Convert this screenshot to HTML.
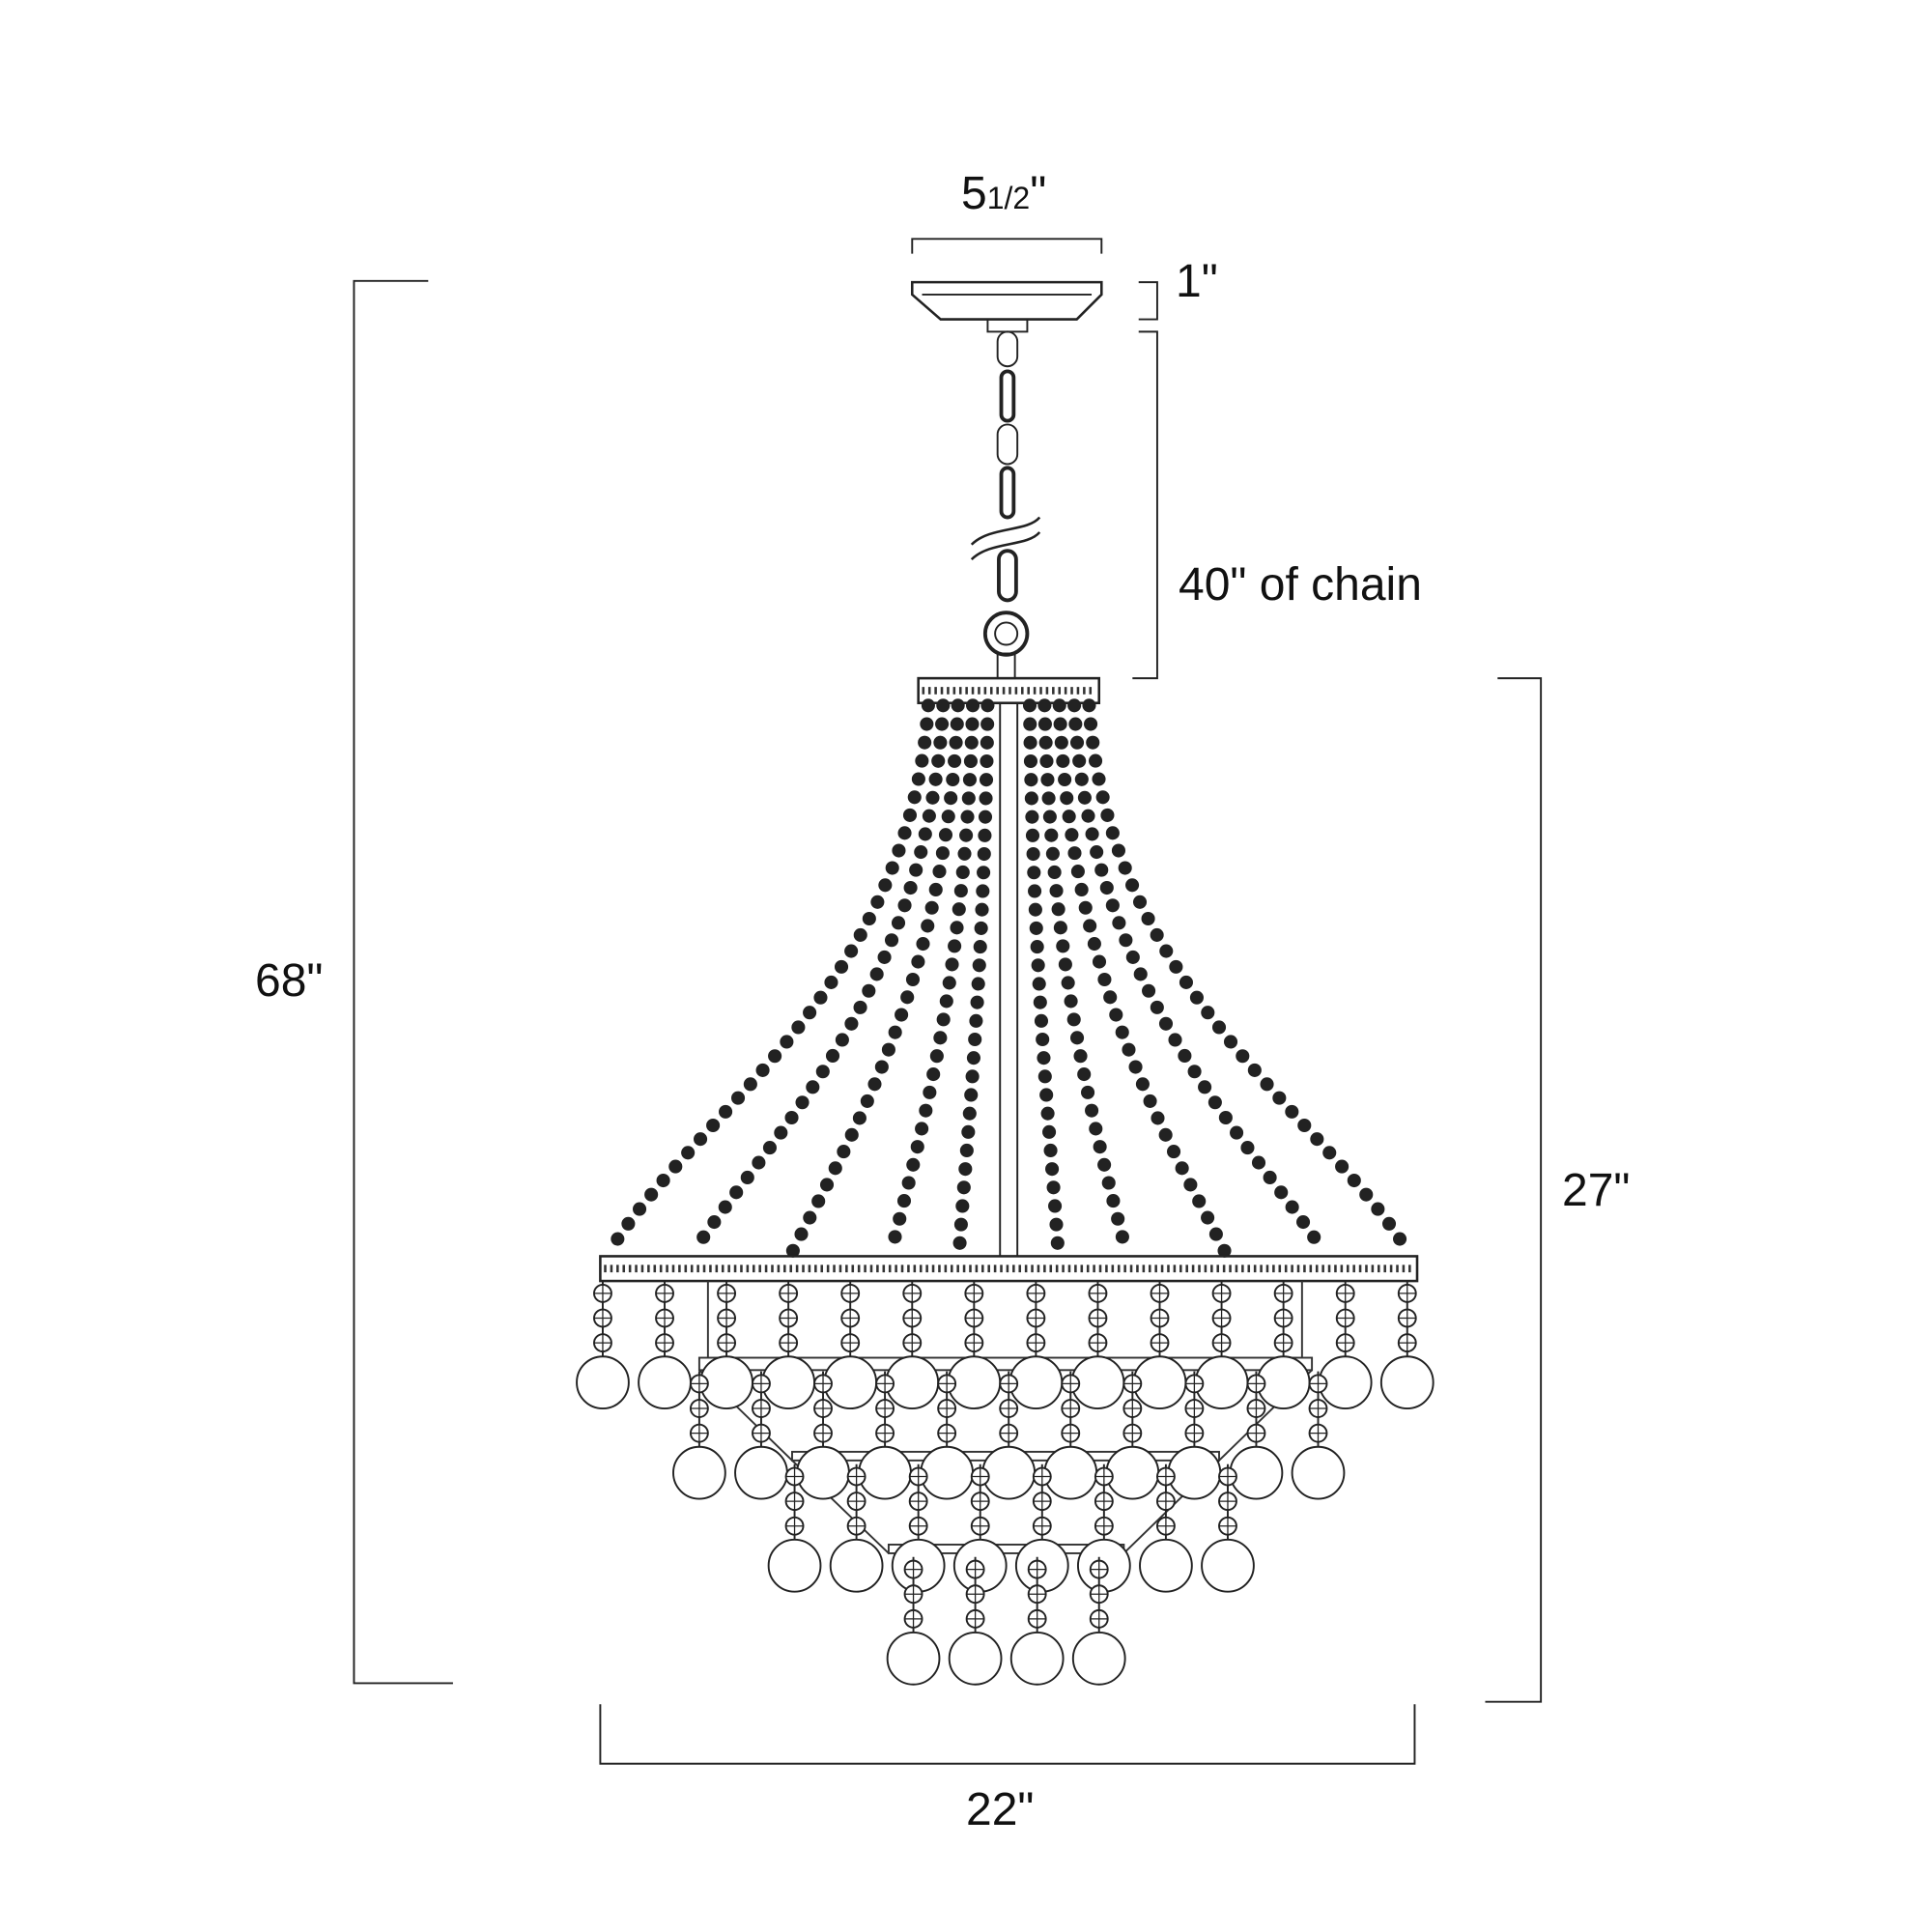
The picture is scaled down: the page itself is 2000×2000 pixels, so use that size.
<!DOCTYPE html>
<html><head><meta charset="utf-8"><style>
html,body{margin:0;padding:0;background:#fff}
body{position:relative;width:2000px;height:2000px;overflow:hidden}
svg{display:block;position:absolute;left:0;top:0}
.t{position:absolute;font-family:"Liberation Sans",Arial,sans-serif;font-size:48px;line-height:1;color:#111;white-space:nowrap}
.s{font-size:32px}
</style></head><body>
<svg width="2000" height="2000" viewBox="0 0 1561 1561" xmlns="http://www.w3.org/2000/svg" xmlns:xlink="http://www.w3.org/1999/xlink">
<defs>
<g id="p" fill="#fff" stroke="#222" stroke-width="1.5">
<line x1="0" y1="-82" x2="0" y2="-21"/>
<circle cx="0" cy="-72" r="7"/><path d="M-7,-72H7M0,-79V-65" stroke-width="1"/>
<circle cx="0" cy="-52" r="7"/><path d="M-7,-52H7M0,-59V-45" stroke-width="1"/>
<circle cx="0" cy="-32" r="7"/><path d="M-7,-32H7M0,-39V-25" stroke-width="1"/>
<circle cx="0" cy="0" r="21"/>
</g>
</defs>
<rect width="1561" height="1561" fill="#fff"/>
<g fill="none" stroke="#222" stroke-width="1.5">
<path d="M737,205 V193 H890 V205"/>
<path d="M920,228 H935 V258 H920"/>
<path d="M920,268 H935 V548 H915"/>
<path d="M346,227 H286 V1360 H366"/>
<path d="M1210,548 H1245 V1375 H1200"/>
<path d="M485,1377 V1425 H1143 V1377"/>
<path d="M737,228 H890 V238 L870,258 H760 L737,238 Z" stroke-width="2"/>
<path d="M745,238 H882"/>
<rect x="798" y="258" width="32" height="10"/>
<rect x="806" y="268" width="16" height="28" rx="8"/>
<rect x="809" y="300" width="10" height="40" rx="5" stroke-width="3"/>
<rect x="806" y="343" width="16" height="32" rx="8"/>
<rect x="809" y="378" width="10" height="40" rx="5" stroke-width="3"/>
<path d="M785,440 C800,425 830,430 840,418 M785,452 C800,437 830,442 840,430" stroke-width="2"/>
<rect x="807" y="445" width="14" height="40" rx="7" stroke-width="3"/>
<circle cx="813" cy="512" r="17" stroke-width="3"/>
<circle cx="813" cy="512" r="9"/>
<rect x="806" y="528" width="14" height="20"/>
<rect x="742" y="548" width="146" height="20" stroke-width="2"/>
<rect x="808" y="568" width="14" height="447"/>
<rect x="485" y="1015" width="660" height="20" stroke-width="2"/>
</g>
<g stroke="#333" stroke-width="6" stroke-dasharray="2 3" fill="none">
<path d="M745,558 H885"/>
<path d="M488,1025 H1142"/>
</g>
<g fill="none" stroke="#222" stroke-width="11" stroke-linecap="round" stroke-dasharray="0 15">
<path d="M750,570 C735,800 560,900 492,1012"/>
<path d="M762,570 C750,800 620,920 560,1012"/>
<path d="M774,570 C765,800 680,930 640,1012"/>
<path d="M786,570 C780,800 740,930 720,1012"/>
<path d="M798,570 C795,800 780,930 775,1012"/>
<path d="M832,570 C835,800 850,930 855,1012"/>
<path d="M844,570 C850,800 890,930 910,1012"/>
<path d="M856,570 C865,800 950,930 990,1012"/>
<path d="M868,570 C880,800 1010,920 1070,1012"/>
<path d="M880,570 C895,800 1070,900 1138,1012"/>
</g>
<g fill="none" stroke="#333" stroke-width="1.5">
<rect x="565" y="1097" width="495" height="10"/>
<rect x="640" y="1173" width="345" height="7"/>
<rect x="718" y="1248" width="190" height="7"/>
<path d="M572,1035 V1097 M1052,1035 V1097"/>
<path d="M565,1107 L640,1180 M1060,1107 L985,1180 M640,1180 L718,1255 M985,1180 L908,1255"/>
</g>
<use xlink:href="#p" href="#p" x="487" y="1117"/><use xlink:href="#p" href="#p" x="537" y="1117"/><use xlink:href="#p" href="#p" x="587" y="1117"/><use xlink:href="#p" href="#p" x="637" y="1117"/><use xlink:href="#p" href="#p" x="687" y="1117"/><use xlink:href="#p" href="#p" x="737" y="1117"/><use xlink:href="#p" href="#p" x="787" y="1117"/><use xlink:href="#p" href="#p" x="837" y="1117"/><use xlink:href="#p" href="#p" x="887" y="1117"/><use xlink:href="#p" href="#p" x="937" y="1117"/><use xlink:href="#p" href="#p" x="987" y="1117"/><use xlink:href="#p" href="#p" x="1037" y="1117"/><use xlink:href="#p" href="#p" x="1087" y="1117"/><use xlink:href="#p" href="#p" x="1137" y="1117"/>
<use xlink:href="#p" href="#p" x="565" y="1190"/><use xlink:href="#p" href="#p" x="615" y="1190"/><use xlink:href="#p" href="#p" x="665" y="1190"/><use xlink:href="#p" href="#p" x="715" y="1190"/><use xlink:href="#p" href="#p" x="765" y="1190"/><use xlink:href="#p" href="#p" x="815" y="1190"/><use xlink:href="#p" href="#p" x="865" y="1190"/><use xlink:href="#p" href="#p" x="915" y="1190"/><use xlink:href="#p" href="#p" x="965" y="1190"/><use xlink:href="#p" href="#p" x="1015" y="1190"/><use xlink:href="#p" href="#p" x="1065" y="1190"/>
<use xlink:href="#p" href="#p" x="642" y="1265"/><use xlink:href="#p" href="#p" x="692" y="1265"/><use xlink:href="#p" href="#p" x="742" y="1265"/><use xlink:href="#p" href="#p" x="792" y="1265"/><use xlink:href="#p" href="#p" x="842" y="1265"/><use xlink:href="#p" href="#p" x="892" y="1265"/><use xlink:href="#p" href="#p" x="942" y="1265"/><use xlink:href="#p" href="#p" x="992" y="1265"/>
<use xlink:href="#p" href="#p" x="738" y="1340"/><use xlink:href="#p" href="#p" x="788" y="1340"/><use xlink:href="#p" href="#p" x="838" y="1340"/><use xlink:href="#p" href="#p" x="888" y="1340"/>
</svg>
<div class="t" style="left:995px;top:177px">5<span class="s">1/2</span>"</div>
<div class="t" style="left:1217px;top:268px">1"</div>
<div class="t" style="left:1220px;top:582px">40" of chain</div>
<div class="t" style="left:264px;top:992px">68"</div>
<div class="t" style="left:1617px;top:1209px">27"</div>
<div class="t" style="left:1000px;top:1850px">22"</div>
</body></html>
